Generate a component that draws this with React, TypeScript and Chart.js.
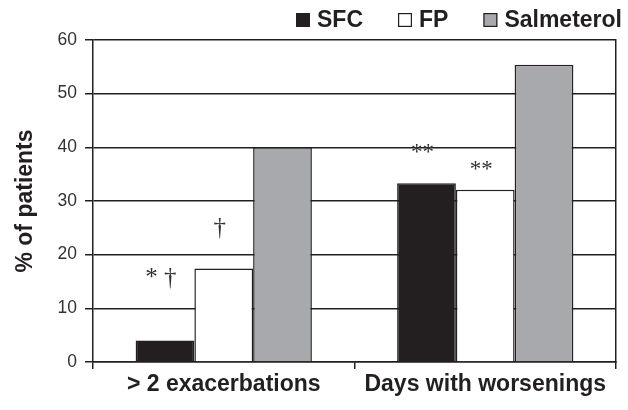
import React, { useEffect, useRef } from "react";
import { Chart, registerables } from "chart.js";

Chart.register(...registerables);

const categories = ["> 2 exacerbations", "Days with worsenings"];
const seriesNames = ["SFC", "FP", "Salmeterol"];
const sfcValues = [4, 33.3];
const fpValues = [17.4, 32.1];
const salmeterolValues = [40, 55.4];
const yMin = 0;
const yMax = 60;
const yStep = 10;
// significance marks per series and category, with the value level where each sits
const sfcMarks = ["* \u2020", "**"];
const fpMarks = ["\u2020", "**"];
const salmeterolMarks = ["", ""];
const sfcMarkLevels = [15.6, 38.9];
const fpMarkLevels = [24.9, 35.7];
const salmeterolMarkLevels = [0, 0];

const INK = "#231f20";
const FONT = "'Liberation Sans', Arial, sans-serif";

const marksPlugin = {
  id: "sigMarks",
  afterDatasetsDraw(chart: any) {
    const ctx = chart.ctx;
    const yScale = chart.scales.y;
    const all = [sfcMarks, fpMarks, salmeterolMarks];
    const levels = [sfcMarkLevels, fpMarkLevels, salmeterolMarkLevels];
    ctx.save();
    ctx.fillStyle = "#333";
    ctx.textAlign = "center";
    ctx.textBaseline = "middle";
    all.forEach((marks, i) => {
      const meta = chart.getDatasetMeta(i);
      marks.forEach((m, j) => {
        if (!m) return;
        const bar = meta.data[j];
        const y = yScale.getPixelForValue(levels[i][j]);
        ctx.font = m.includes("\u2020") ? `25px 'Liberation Serif', serif` : `23px 'Liberation Serif', serif`;
        ctx.fillText(m, bar.x - 4, y);
      });
    });
    ctx.restore();
  },
};

const legendPlugin = {
  id: "customLegend",
  afterDraw(chart: any) {
    const ctx = chart.ctx;
    const ds = chart.data.datasets;
    const box = 14;
    const gap = 7;
    const spacing = 35;
    const right = 622;
    const baseline = 27;
    ctx.save();
    ctx.font = `bold 23px ${FONT}`;
    const widths = ds.map((d: any) => ctx.measureText(d.label).width);
    let total = 0;
    widths.forEach((w: number, i: number) => {
      total += box + gap + w + (i > 0 ? spacing : 0);
    });
    let x = right - total;
    ds.forEach((d: any, i: number) => {
      ctx.fillStyle = d.backgroundColor;
      ctx.strokeStyle = INK;
      ctx.lineWidth = 1.2;
      ctx.fillRect(x, baseline - box, box, box);
      ctx.strokeRect(x + 0.6, baseline - box + 0.6, box - 1.2, box - 1.2);
      ctx.fillStyle = INK;
      ctx.textAlign = "left";
      ctx.textBaseline = "alphabetic";
      ctx.fillText(d.label, x + box + gap, baseline);
      x += box + gap + widths[i] + spacing;
    });
    ctx.restore();
  },
};

export default function App() {
  const ref = useRef<HTMLCanvasElement>(null);
  useEffect(() => {
    if (!ref.current) return;
    const chart = new Chart(ref.current, {
      type: "bar",
      data: {
        labels: categories,
        datasets: [
          { label: seriesNames[0], data: sfcValues, backgroundColor: INK, borderColor: INK, borderWidth: 1.5 },
          { label: seriesNames[1], data: fpValues, backgroundColor: "#ffffff", borderColor: INK, borderWidth: 1.5 },
          { label: seriesNames[2], data: salmeterolValues, backgroundColor: "#a7a9ac", borderColor: INK, borderWidth: 1.5 },
        ],
      },
      options: {
        animation: false,
        responsive: false,
        layout: { padding: { top: 40, left: 0, right: 0, bottom: 0 } },
        datasets: { bar: { categoryPercentage: 0.674, barPercentage: 1 } },
        plugins: { legend: { display: false }, tooltip: { enabled: false } },
        scales: {
          x: {
            grid: { drawOnChartArea: false, drawTicks: true, tickLength: 7, color: INK, lineWidth: 1.5, offset: true },
            border: { display: true, color: INK, width: 1.5 },
            ticks: { color: INK, font: { family: FONT, size: 23, weight: "bold" }, padding: 2, maxRotation: 0 },
            afterFit: (s: any) => { s.height = 48; },
          },
          y: {
            min: yMin,
            max: yMax,
            ticks: { stepSize: yStep, color: "#333", font: { family: FONT, size: 17.5 }, padding: 8 },
            grid: { color: INK, lineWidth: 1.5, tickLength: 8 },
            border: { display: true, color: INK, width: 1.5 },
            title: { display: true, text: "% of patients", color: INK, font: { family: FONT, size: 23, weight: "bold" }, padding: { top: 12, bottom: 0 } },
            afterFit: (s: any) => { s.width = 93; },
          },
          y2: {
            position: "right",
            display: true,
            ticks: { display: false },
            grid: { display: false },
            border: { display: true, color: INK, width: 1.5 },
            afterFit: (s: any) => { s.width = 12; },
          },
        },
      } as any,
      plugins: [marksPlugin, legendPlugin],
    });
    return () => chart.destroy();
  }, []);
  return (
    <div style={{ position: "absolute", left: 0, top: 0, width: 628, height: 410, background: "#fff" }}>
      <canvas ref={ref} width={628} height={410} />
    </div>
  );
}
